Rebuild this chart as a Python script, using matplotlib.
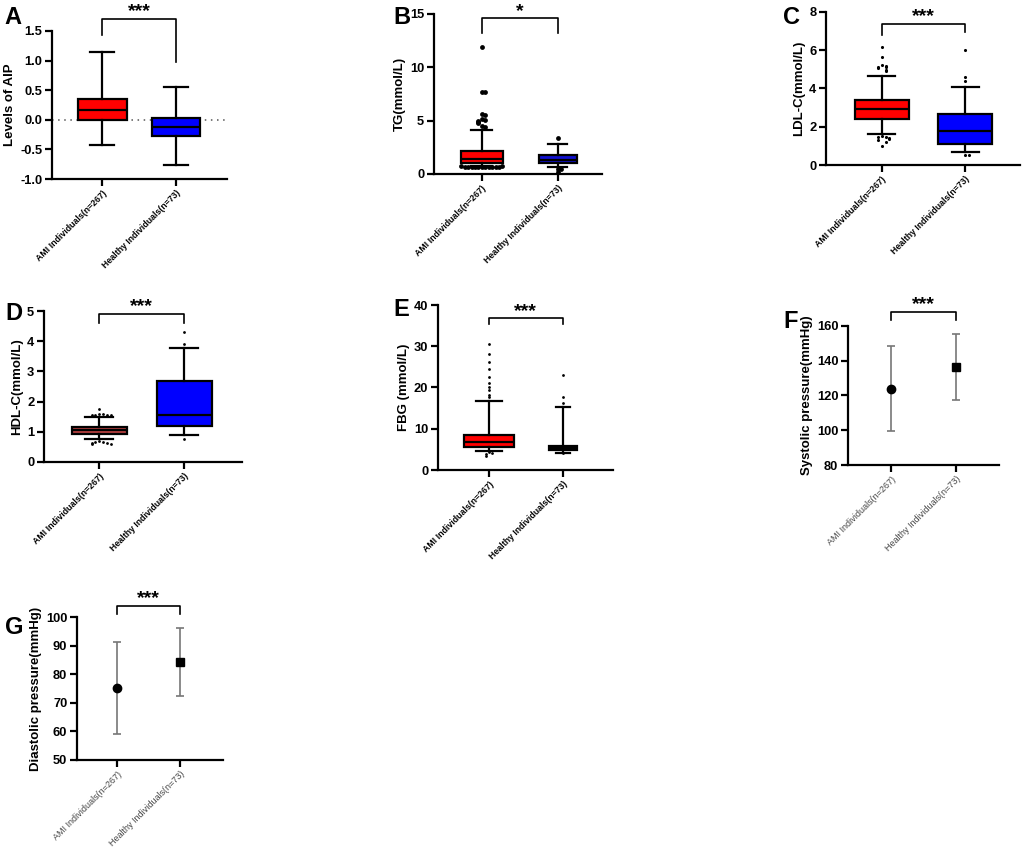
import numpy as np
import matplotlib
matplotlib.use("Agg")
import matplotlib.pyplot as plt

plt.rcParams['font.family'] = ['Liberation Sans', 'DejaVu Sans']

W, H = 1026, 847

groups = ["AMI Individuals(n=267)", "Healthy Individuals(n=73)"]
box_colors = ["#FF0000", "#0000FF"]

# box stats: (whislo, q1, med, q3, whishi)
aip_stats = [(-0.42, 0.0, 0.17, 0.35, 1.14), (-0.77, -0.28, -0.12, 0.03, 0.55)]
aip_fliers = [[], []]

tg_stats = [(0.75, 1.07, 1.38, 2.17, 4.11), (0.65, 1.0, 1.35, 1.8, 2.85)]
tg_fliers = [[11.9, 7.7, 7.7, 5.6, 5.55, 5.2, 5.1, 5.0, 4.9, 4.8, 4.5, 4.4,
              0.62, 0.64, 0.65, 0.66, 0.66, 0.67, 0.68, 0.68, 0.69, 0.7, 0.7, 0.71, 0.72],
             [3.4, 0.2, 0.5, 0.5]]

ldl_stats = [(1.64, 2.39, 2.93, 3.38, 4.65), (0.70, 1.11, 1.76, 2.68, 4.06)]
ldl_fliers = [[6.15, 5.65, 5.25, 5.2, 5.1, 5.1, 5.05, 4.95, 4.9,
               1.5, 1.45, 1.45, 1.4, 1.35, 1.3, 1.2, 1.0],
              [6.0, 4.6, 4.4, 0.5, 0.5]]

hdl_stats = [(0.75, 0.93, 1.06, 1.17, 1.49), (0.88, 1.2, 1.55, 2.68, 3.78)]
hdl_fliers = [[1.74, 1.6, 1.58, 1.57, 1.56, 1.55, 1.55,
               0.68, 0.66, 0.65, 0.64, 0.62, 0.6, 0.6],
              [4.3, 3.92, 0.75]]

fbg_stats = [(4.7, 5.65, 6.85, 8.47, 16.8), (4.2, 4.84, 5.3, 5.8, 15.2)]
fbg_fliers = [[30.5, 28.1, 26.3, 24.5, 22.6, 21.0, 20.0, 19.3, 18.3, 17.6,
               4.3, 4.0, 3.8, 3.5],
              [23.0, 17.6, 16.2, 4.0]]

# mean, lower, upper
sbp_mean = [124.0, 136.2]
sbp_low = [99.4, 117.5]
sbp_high = [148.7, 155.2]

dbp_mean = [75.2, 84.3]
dbp_low = [59.0, 72.3]
dbp_high = [91.3, 96.3]


def px_axes(fig, l, t, r, b):
    return fig.add_axes([l / W, 1 - b / H, (r - l) / W, (b - t) / H])


def style_axes(ax, ylabel, yticks, fmt="%g", light_x=False):
    for s in ["top", "right"]:
        ax.spines[s].set_visible(False)
    for s in ["left", "bottom"]:
        ax.spines[s].set_linewidth(1.6)
    ax.tick_params(width=1.6, length=5, pad=2)
    ax.set_yticks(yticks)
    ax.set_yticklabels([fmt % v for v in yticks], fontsize=9.3, fontweight="bold")
    ax.set_xticks([0, 1])
    if light_x:
        ax.set_xticklabels(groups, rotation=45, ha="right", rotation_mode="anchor",
                           fontsize=6.5, color="#444444")
    else:
        ax.set_xticklabels(groups, rotation=45, ha="right", rotation_mode="anchor",
                           fontsize=6.3, fontweight="bold")
    ax.set_ylabel(ylabel, fontsize=9.5, fontweight="bold", labelpad=3)


def spread(vals, center, tol, step):
    xs, placed = [], []
    for v in vals:
        k = sum(1 for p in placed if abs(p - v) < tol)
        off = ((k + 1) // 2) * step * (1 if k % 2 else -1)
        xs.append(center + off)
        placed.append(v)
    return xs


def box_panel(ax, stats, fliers, widths, colors, ms, tol):
    bxp_stats = []
    for s in stats:
        bxp_stats.append(dict(whislo=s[0], q1=s[1], med=s[2], q3=s[3], whishi=s[4], fliers=[]))
    art = ax.bxp(bxp_stats, positions=[0, 1], widths=widths, patch_artist=True,
                 showfliers=False,
                 boxprops=dict(linewidth=1.6, edgecolor="black"),
                 medianprops=dict(color="black", linewidth=1.6),
                 whiskerprops=dict(linewidth=1.6, color="black"),
                 capprops=dict(linewidth=1.6, color="black"))
    for patch, c in zip(art["boxes"], colors):
        patch.set_facecolor(c)
    for i, fl in enumerate(fliers):
        if fl:
            xs = spread(fl, i, tol, 0.045)
            ax.scatter(xs, fl, s=ms, color="black", zorder=3, linewidths=0)


def bracket(ax, y, yl, yr, stars, fs=14):
    ax.plot([0, 0, 1, 1], [yl, y, y, yr], color="black", lw=1.2, clip_on=False)
    ax.annotate(stars, xy=(0.5, y), xytext=(0, -1), textcoords="offset points",
                ha="center", va="bottom", fontsize=fs, fontweight="bold",
                annotation_clip=False)


fig = plt.figure(figsize=(W / 100, H / 100), dpi=100)

# A
ax = px_axes(fig, 52, 31, 227, 179)
box_panel(ax, aip_stats, aip_fliers, 0.66, box_colors, 8, 0.1)
ax.axhline(0, color="#555555", lw=1.1, ls=(0, (1, 3)), zorder=0)
ax.set_xlim(-0.68, 1.69)
ax.set_ylim(-1.0, 1.5)
style_axes(ax, "Levels of AIP", [-1.0, -0.5, 0.0, 0.5, 1.0, 1.5], "%.1f")
bracket(ax, 1.70, 1.43, 0.98, "***")

# B
ax = px_axes(fig, 434, 14, 602, 174)
box_panel(ax, tg_stats, tg_fliers, [0.55, 0.5], ["#FF0000", "#1010D0"], 12, 0.25)
ax.set_xlim(-0.63, 1.58)
ax.set_ylim(0, 15)
style_axes(ax, "TG(mmol/L)", [0, 5, 10, 15])
bracket(ax, 14.6, 13.2, 13.2, "*")

# C
ax = px_axes(fig, 826, 12, 1020, 165)
box_panel(ax, ldl_stats, ldl_fliers, 0.65, box_colors, 5, 0.12)
ax.set_xlim(-0.67, 1.66)
ax.set_ylim(0, 8)
style_axes(ax, "LDL-C(mmol/L)", [0, 2, 4, 6, 8])
bracket(ax, 7.39, 6.8, 6.95, "***")

# D
ax = px_axes(fig, 44, 311, 242, 462)
box_panel(ax, hdl_stats, hdl_fliers, 0.65, ["#B5403F", "#0000FF"], 4, 0.08)
ax.set_xlim(-0.65, 1.68)
ax.set_ylim(0, 5)
style_axes(ax, "HDL-C(mmol/L)", [0, 1, 2, 3, 4, 5])
bracket(ax, 4.91, 4.6, 4.6, "***")

# E
ax = px_axes(fig, 438, 305, 613, 470)
box_panel(ax, fbg_stats, fbg_fliers, [0.68, 0.38], ["#FF0000", "#2E3A80"], 4, 0.6)
ax.set_xlim(-0.69, 1.68)
ax.set_ylim(0, 40)
style_axes(ax, "FBG (mmol/L)", [0, 10, 20, 30, 40])
bracket(ax, 36.8, 35.3, 35.3, "***")

# F
ax = px_axes(fig, 848, 326, 999, 465)
xs = np.arange(2)
ax.errorbar(xs, sbp_mean,
            yerr=[np.subtract(sbp_mean, sbp_low), np.subtract(sbp_high, sbp_mean)],
            fmt="none", ecolor="#777777", elinewidth=1.2, capsize=3, capthick=1.2)
ax.plot(xs[0], sbp_mean[0], "o", color="black", ms=6)
ax.plot(xs[1], sbp_mean[1], "s", color="black", ms=6)
ax.set_xlim(-0.66, 1.66)
ax.set_ylim(80, 160)
style_axes(ax, "Systolic pressure(mmHg)", [80, 100, 120, 140, 160], light_x=True)
bracket(ax, 168.3, 163.5, 163.5, "***")

# G
ax = px_axes(fig, 77, 617, 223, 760)
ax.errorbar(xs, dbp_mean,
            yerr=[np.subtract(dbp_mean, dbp_low), np.subtract(dbp_high, dbp_mean)],
            fmt="none", ecolor="#777777", elinewidth=1.2, capsize=3, capthick=1.2)
ax.plot(xs[0], dbp_mean[0], "o", color="black", ms=6)
ax.plot(xs[1], dbp_mean[1], "s", color="black", ms=6)
ax.set_xlim(-0.64, 1.68)
ax.set_ylim(50, 100)
style_axes(ax, "Diastolic pressure(mmHg)", [50, 60, 70, 80, 90, 100], light_x=True)
bracket(ax, 103.8, 101.2, 101.2, "***")

# panel letters
for letter, (x, y) in zip("ABCDEFG", [(13, 17), (402, 17), (792, 18), (14, 313),
                                      (401, 309), (791, 321), (14, 627)]):
    fig.text(x / W, 1 - y / H, letter, fontsize=17, fontweight="bold",
             ha="center", va="center")

fig.savefig("out.png", dpi=100)
